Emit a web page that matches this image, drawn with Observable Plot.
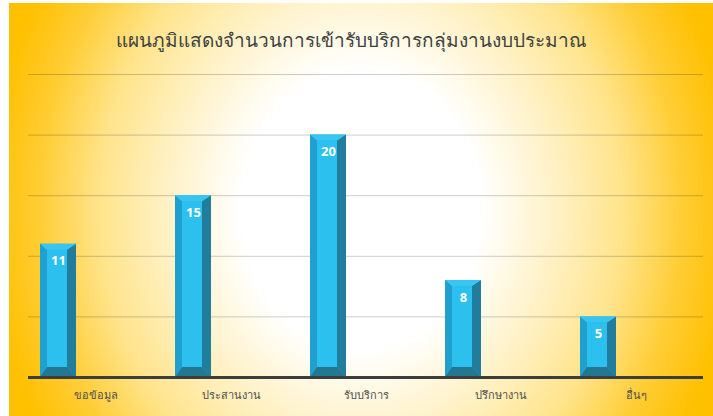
<!DOCTYPE html>
<html>
<head>
<meta charset="utf-8">
<script src="https://cdn.jsdelivr.net/npm/d3@7"></script>
<script src="https://cdn.jsdelivr.net/npm/@observablehq/plot@0.6"></script>
<style>
  html, body { margin: 0; padding: 0; background: #fff; }
  #frame {
    position: absolute; left: 9px; top: 3px; width: 704px; height: 413px;
    background: radial-gradient(ellipse 53% 105% at 50% 50%, #ffffff 0%, #ffffff 32%, #fff3cc 50%, #ffe48c 70%, #ffcd35 86%, #ffc000 100%);
    overflow: hidden;
  }
  #title {
    height: 60px; box-sizing: border-box; padding-top: 14px;
    display: flex; align-items: center; justify-content: center;
    font-family: "Noto Sans", "DejaVu Sans", sans-serif; font-size: 19px; color: #404040;
    padding-right: 20px;
  }
  #chart svg { display: block; background: transparent; }
</style>
</head>
<body>
<div id="frame">
  <div id="title">แผนภูมิแสดงจำนวนการเข้ารับบริการกลุ่มงานงบประมาณ</div>
  <div id="chart"></div>
</div>
<script>
const categories = ["ขอข้อมูล", "ประสานงาน", "รับบริการ", "ปรึกษางาน", "อื่นๆ"];
const values = [11, 15, 20, 8, 5];
const gridTicks = [5, 10, 15, 20, 25];

const data = categories.map((c, i) => ({category: c, value: values[i]}));

const BAR_OFFSET = 12, BAR_W = 36;
const BL = 7, BR = 9, BT = 6, BB = 10;

function bevelBars(index, scales, vals, dimensions, context) {
  const g = d3.create("svg:g");
  for (const i of index) {
    const x0 = vals.x[i] + BAR_OFFSET;
    const x1 = x0 + BAR_W;
    const top = Math.min(vals.y1[i], vals.y2[i]);
    const bot = Math.max(vals.y1[i], vals.y2[i]);
    const polys = [
      {pts: [[x0, top], [x1, top], [x1, bot], [x0, bot]], fill: "#27b8e6"},
      {pts: [[x0, top], [x0 + BL, top + BT], [x0 + BL, bot - BB], [x0, bot]], fill: "#1fa0cf"},
      {pts: [[x1, top], [x1 - BR, top + BT], [x1 - BR, bot - BB], [x1, bot]], fill: "#217d9d"},
      {pts: [[x0, top], [x1, top], [x1 - BR, top + BT], [x0 + BL, top + BT]], fill: "#38c6f1"},
      {pts: [[x0, bot], [x1, bot], [x1 - BR, bot - BB], [x0 + BL, bot - BB]], fill: "#247790"},
      {pts: [[x0 + BL, top + BT], [x1 - BR, top + BT], [x1 - BR, bot - BB], [x0 + BL, bot - BB]], fill: "#2bc0ee"}
    ];
    for (const p of polys) {
      g.append("polygon").attr("points", p.pts.map(d => d.join(",")).join(" ")).attr("fill", p.fill);
    }
  }
  return g.node();
}

const chart = Plot.plot({
  width: 704,
  height: 353,
  marginLeft: 19,
  marginRight: 10,
  marginTop: 11,
  marginBottom: 39,
  style: {background: "transparent", overflow: "visible"},
  x: {domain: categories, padding: 0, label: null},
  y: {domain: [0, 25], label: null, axis: null},
  marks: [
    Plot.ruleY(gridTicks, {stroke: "#000", strokeOpacity: 0.2, strokeWidth: 1}),
    Plot.barY(data, {x: "category", y: "value", fill: "#27b8e6", render: bevelBars}),
    Plot.text(data, {
      x: "category", y: "value", text: d => String(d.value),
      dx: -(135 / 2) + BAR_OFFSET + BAR_W / 2, dy: 17,
      fill: "#fff", fontWeight: "bold", fontSize: 13,
      fontFamily: "'Open Sans', 'DejaVu Sans', sans-serif"
    }),
    Plot.ruleY([0], {stroke: "#3d3d3d", strokeWidth: 3}),
    Plot.axisX({tickSize: 0, tickPadding: 14, fontSize: 11, fill: "#4f4f4f",
      fontFamily: "'Noto Sans', 'DejaVu Sans', sans-serif", label: null})
  ]
});
document.getElementById("chart").appendChild(chart);
</script>
</body>
</html>
